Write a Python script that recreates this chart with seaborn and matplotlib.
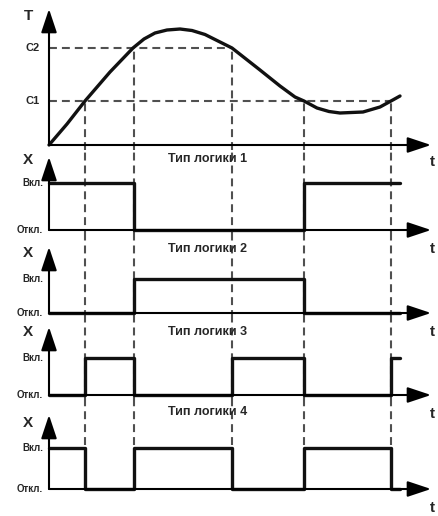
import numpy as np
import pandas as pd
import matplotlib
matplotlib.use("Agg")
import matplotlib.pyplot as plt
import seaborn as sns

# ---- data (time / temperature in arbitrary units) ----
t_cross = [3.6, 8.5, 18.3, 25.5, 34.2]   # moments the curve crosses C1 / C2
t_end = 35.1
C1, C2 = 4.4, 9.7
cross_level = [C1, C2, C2, C1, C1]

curve_t = [0.0, 1.8, 3.6, 6.1, 8.4, 9.5, 10.6, 11.8, 13.1, 14.3, 15.6,
           17.1, 18.3, 21.1, 23.1, 24.6, 25.5, 26.8, 28.0, 29.1, 31.4,
           33.1, 34.2, 35.1]
curve_T = [0.0, 2.1, 4.4, 7.3, 9.7, 10.6, 11.2, 11.5, 11.6, 11.45, 11.05,
           10.3, 9.7, 7.5, 5.9, 4.8, 4.4, 3.7, 3.35, 3.2, 3.3,
           3.8, 4.4, 4.9]

# output state on each interval between crossings (0 = Откл., 1 = Вкл.)
logic1 = [1, 1, 0, 0, 1, 1]
logic2 = [0, 0, 1, 1, 0, 0]
logic3 = [0, 1, 0, 1, 0, 1]
logic4 = [1, 0, 1, 0, 1, 0]
logics = [logic1, logic2, logic3, logic4]
titles = ["Тип логики 1", "Тип логики 2", "Тип логики 3", "Тип логики 4"]
state_labels = ["Откл.", "Вкл."]

sns.set_theme(style="white")
plt.rcParams["font.family"] = ["Liberation Sans", "DejaVu Sans"]
plt.rcParams["font.weight"] = "bold"

W, H = 439, 516
fig = plt.figure(figsize=(W / 100, H / 100), dpi=100)

def tx(px):
    return (px - 49) / 10.0

xlim = (tx(0), tx(W))
dash = (0, (3.8, 2.4))
dash_col = "#505050"
arrow_kw = dict(arrowstyle="-|>,head_length=0.9,head_width=0.3", lw=1.5,
                color="black", mutation_scale=16, shrinkA=0, shrinkB=0)

def add_band(top, bottom):
    ax = fig.add_axes([0, 1 - bottom / H, 1, (bottom - top) / H])
    ax.set_xlim(*xlim)
    ax.axis("off")
    return ax

# ---- temperature panel ----
ax0 = add_band(0, 150)
ty = lambda py: (145 - py) / 10.0
ax0.set_ylim(ty(150), ty(0))
ax0.hlines([C2, C1], 0, [t_cross[2], t_cross[4]], colors=dash_col, lw=1.5, linestyles=[dash])
ax0.vlines(t_cross, ty(150), cross_level, colors=dash_col, lw=1.5, linestyles=[dash])
sns.lineplot(x=curve_t, y=curve_T, ax=ax0, color="#111111", lw=2.4,
             estimator=None, sort=False, solid_capstyle="round",
             solid_joinstyle="round", zorder=3)
ax0.annotate("", xy=(tx(431), 0), xytext=(0, 0), arrowprops=arrow_kw)
ax0.annotate("", xy=(0, ty(9)), xytext=(0, 0), arrowprops=arrow_kw)
ax0.text(tx(29), ty(16), "T", fontsize=11, ha="center", va="center")
ax0.text(tx(40), C2, "C2", fontsize=8, ha="right", va="center")
ax0.text(tx(40), C1, "C1", fontsize=8, ha="right", va="center")
ax0.text(tx(432), ty(162), "t", fontsize=11, ha="center", va="center")

# ---- output panels ----
# (band top, band bottom, Вкл. y, Откл. y, arrow tip y, title y, X label y)
bands = [(150, 238, 183, 230, 157, 159, 160),
         (238, 318, 279, 313, 247, 249, 253),
         (318, 400, 358, 395, 327, 332, 332),
         (400, 516, 448, 489, 415, 412, 423)]

edges = [0.0] + t_cross + [t_end]
for i, (top, bottom, on_y, off_y, tip_y, title_y, xl_y) in enumerate(bands):
    ax = add_band(top, bottom)
    vy = lambda py, on_y=on_y, off_y=off_y: (off_y - py) / (off_y - on_y)
    ax.set_ylim(vy(bottom), vy(top))
    if i < 3:
        ax.vlines(t_cross, vy(bottom), vy(top), colors=dash_col, lw=1.5, linestyles=[dash])
    else:
        ax.vlines(t_cross, vy(445), vy(top), colors=dash_col, lw=1.5, linestyles=[dash])
    df = pd.DataFrame({"t": edges, "x": logics[i] + [logics[i][-1]]})
    sns.lineplot(data=df, x="t", y="x", ax=ax, color="#111111", lw=2.4,
                 estimator=None, sort=False, drawstyle="steps-post", zorder=3)
    ax.annotate("", xy=(tx(431), 0), xytext=(0, 0), arrowprops=arrow_kw)
    ax.annotate("", xy=(0, vy(tip_y)), xytext=(0, 0), arrowprops=arrow_kw)
    ax.text(tx(28), vy(xl_y), "X", fontsize=11, ha="center", va="center")
    ax.text(tx(43), 1, state_labels[1], fontsize=7, ha="right", va="center")
    ax.text(tx(43), 0, state_labels[0], fontsize=7, ha="right", va="center")
    ax.text(tx(208), vy(title_y), titles[i], fontsize=9, ha="center", va="center")
    ax.text(tx(432), vy(off_y + 19), "t", fontsize=11, ha="center", va="center",
            clip_on=False)

fig.savefig("out.png", dpi=100)
